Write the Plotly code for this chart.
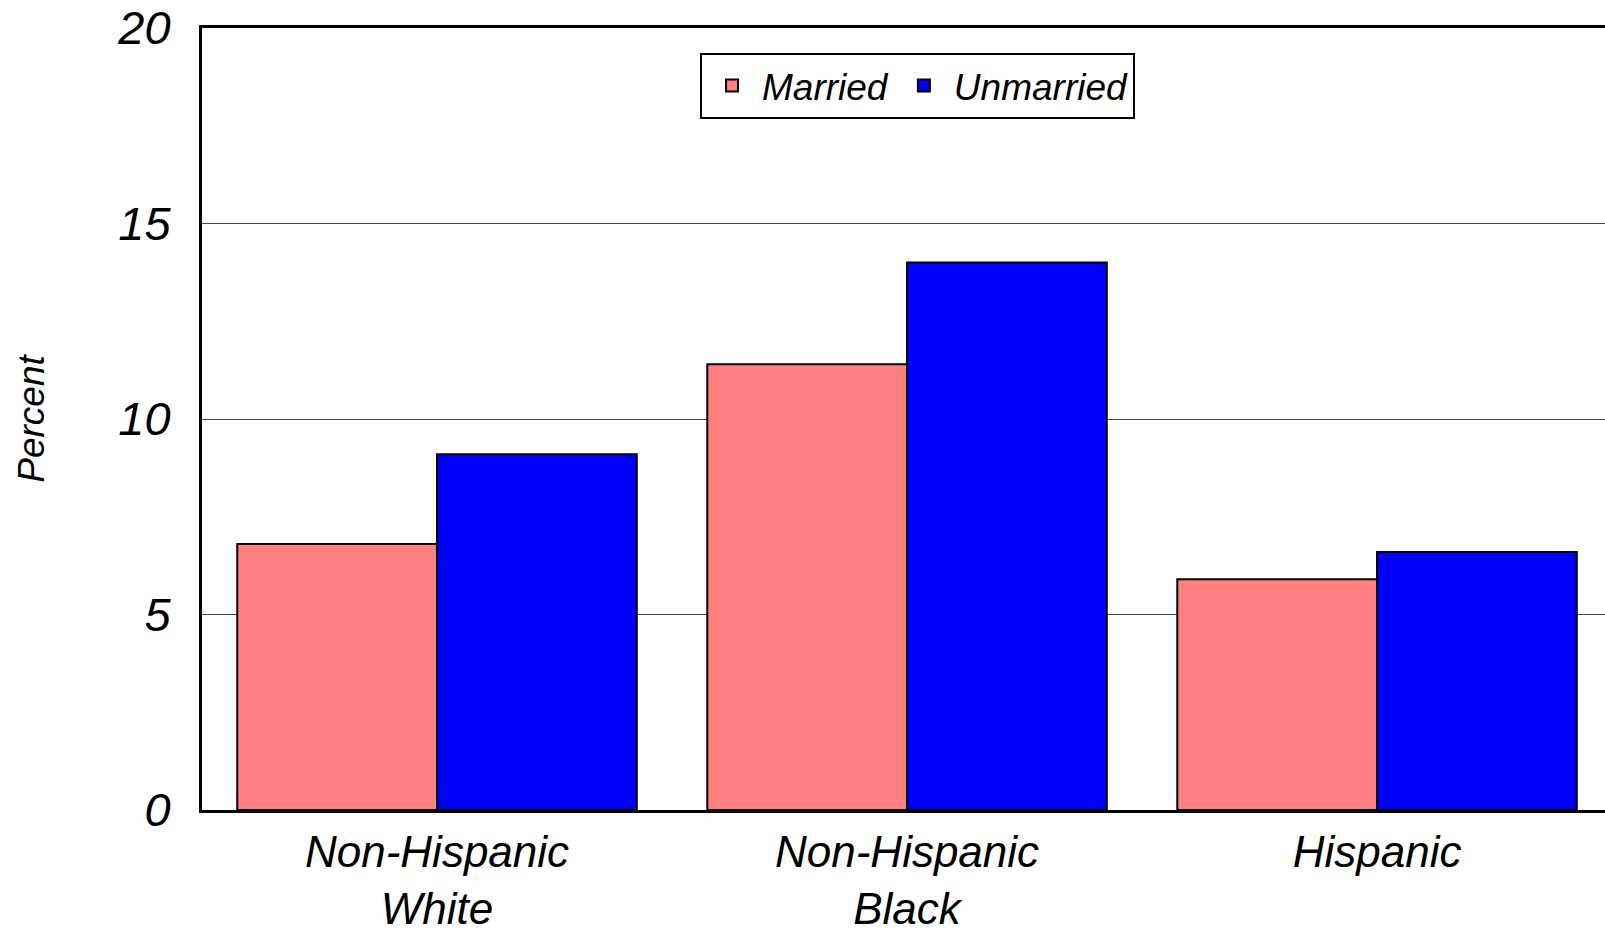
import plotly.graph_objects as go

categories = ["Non-Hispanic<br>White", "Non-Hispanic<br>Black", "Hispanic"]
married = [6.8, 11.4, 5.9]
unmarried = [9.1, 14.0, 6.6]
y_ticks = [0, 5, 10, 15, 20]

FONT = "Liberation Sans, Arial, sans-serif"

fig = go.Figure()
fig.add_trace(go.Bar(
    x=categories, y=married, name="Married",
    marker=dict(color="#ff8080", line=dict(color="black", width=2)),
))
fig.add_trace(go.Bar(
    x=categories, y=unmarried, name="Unmarried",
    marker=dict(color="#0000ff", line=dict(color="black", width=2)),
))

fig.update_layout(
    width=1605, height=936,
    margin=dict(l=202, r=0, t=28, b=126),
    paper_bgcolor="white", plot_bgcolor="white",
    barmode="group", bargap=0.15, bargroupgap=0,
    font=dict(family=FONT, color="black"),
    legend=dict(
        orientation="h", x=0.51, xanchor="center", y=0.968, yanchor="top",
        font=dict(size=37, style="italic"),
        bordercolor="black", borderwidth=2, bgcolor="white",
        itemwidth=50, traceorder="normal",
    ),
)

fig.update_xaxes(
    range=[-0.5, 2.485], automargin=False,
    showline=True, linecolor="black", linewidth=3, mirror=True,
    showgrid=False, ticks="", ticklabelstandoff=1,
    tickfont=dict(size=44, style="italic"),
)
fig.update_yaxes(
    range=[0, 20], tickvals=y_ticks, automargin=False,
    ticklabeloverflow="allow",
    showline=True, linecolor="black", linewidth=3,
    showgrid=True, gridcolor="#444", gridwidth=1, zeroline=False,
    ticks="", ticklabelstandoff=19,
    tickfont=dict(size=47, style="italic"),
    title=dict(text="Percent", font=dict(size=37, style="italic"), standoff=62),
)

# page body margin would shift the figure; remove it
fig.write_html("out.html", config={"displayModeBar": False},
               post_script="document.body.style.margin='0px';")
